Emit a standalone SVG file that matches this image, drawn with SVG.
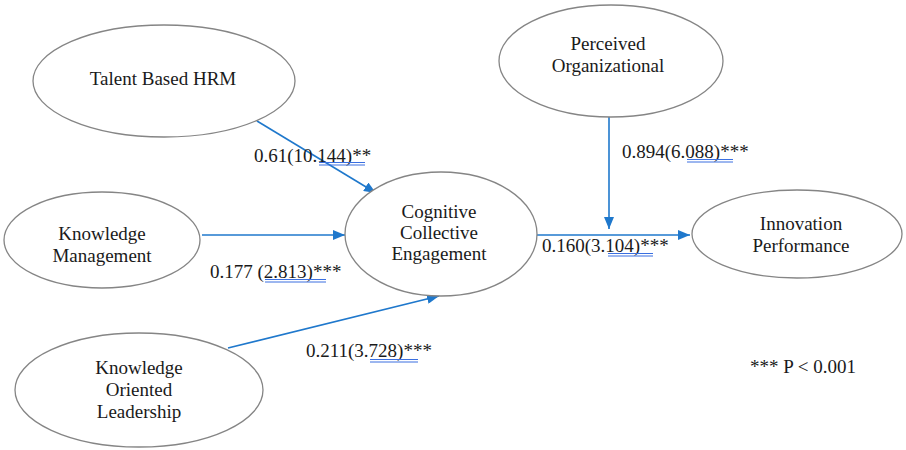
<svg xmlns="http://www.w3.org/2000/svg" width="906" height="450" viewBox="0 0 906 450">
<defs>
<style>
.shape{fill:#fff;stroke:#858585;stroke-width:1.3}
.nt{font-family:"Liberation Serif","Times New Roman",serif;font-size:19px;fill:#1a1a1a;text-anchor:middle}
.lbl{font-family:"Liberation Serif","Times New Roman",serif;font-size:19px;fill:#1a1a1a}
.edge{stroke:#1f78cc;stroke-width:1.6;fill:none;marker-end:url(#ah)}
.ul{stroke:#3a6fe0;stroke-width:1;fill:none}
</style>
<marker id="ah" viewBox="0 0 12 10" refX="12" refY="5" markerWidth="12" markerHeight="10" markerUnits="userSpaceOnUse" orient="auto">
<path d="M0,0 L12,5 L0,10 Z" fill="#1f78cc"/>
</marker>
</defs>
<rect width="906" height="450" fill="#fff"/>
<g id="connectors">
<line class="edge" x1="257" y1="121" x2="376" y2="193"/>
<line class="edge" x1="202" y1="235" x2="345" y2="235"/>
<line class="edge" x1="228" y1="348" x2="439" y2="296"/>
<line class="edge" x1="536" y1="235" x2="690" y2="235"/>
<line class="edge" x1="609" y1="117" x2="609" y2="229"/>
</g>
<g id="talent"><ellipse class="shape" cx="164" cy="81" rx="131" ry="56"/><text class="nt" x="163" y="85">Talent Based HRM</text></g>
<g id="km"><ellipse class="shape" cx="102" cy="240" rx="98" ry="48"/><text class="nt" x="102" y="240">Knowledge</text><text class="nt" x="102" y="262">Management</text></g>
<g id="kol"><ellipse class="shape" cx="139" cy="390" rx="124" ry="57"/><text class="nt" x="139" y="374">Knowledge</text><text class="nt" x="139" y="396">Oriented</text><text class="nt" x="139" y="418">Leadership</text></g>
<g id="cce"><ellipse class="shape" cx="441" cy="234" rx="96" ry="62"/><text class="nt" x="439" y="218">Cognitive</text><text class="nt" x="439" y="239">Collective</text><text class="nt" x="439" y="260">Engagement</text></g>
<g id="po"><ellipse class="shape" cx="611" cy="61" rx="112" ry="56"/><text class="nt" x="608" y="50">Perceived</text><text class="nt" x="608" y="72">Organizational</text></g>
<g id="ip"><ellipse class="shape" cx="797" cy="234" rx="105" ry="44"/><text class="nt" x="801" y="230">Innovation</text><text class="nt" x="801" y="252">Performance</text></g>
<g id="labels">
<text class="lbl" x="254" y="162">0.61(10.144)**</text>
<path class="ul" d="M319,162.5H365M319,165H365"/>
<text class="lbl" x="210" y="278">0.177 (2.813)***</text>
<path class="ul" d="M265,279.5H326M265,282H326"/>
<text class="lbl" x="306" y="357">0.211(3.728)***</text>
<path class="ul" d="M370,359.5H418M370,362H418"/>
<text class="lbl" x="622" y="158">0.894(6.088)***</text>
<path class="ul" d="M687,159.5H733M687,162H733"/>
<text class="lbl" x="542" y="252">0.160(3.104)***</text>
<path class="ul" d="M608,253.5H653M608,256H653"/>
<text class="lbl" x="750" y="373">*** P &lt; 0.001</text>
</g>
</svg>
